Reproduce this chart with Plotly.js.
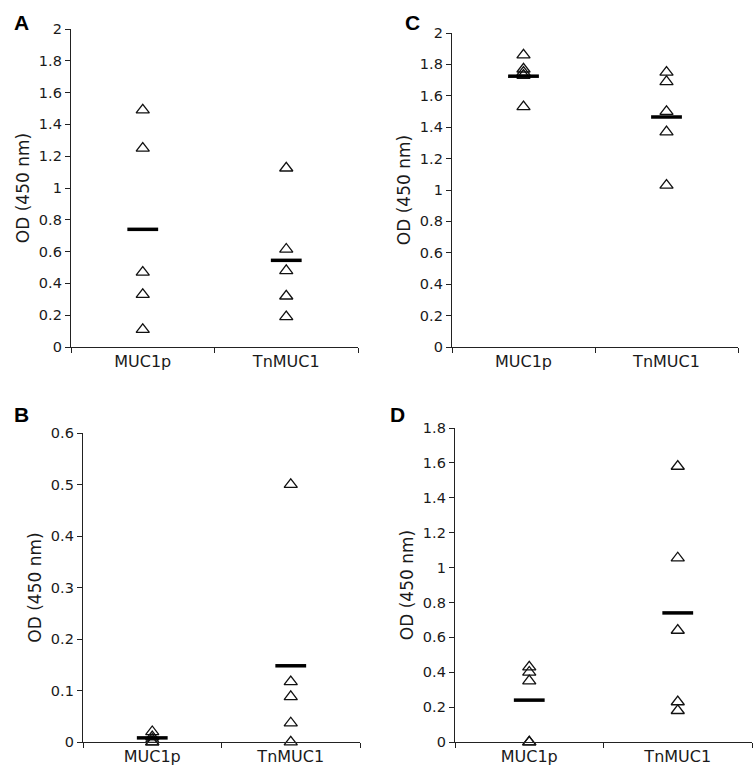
<!DOCTYPE html>
<html>
<head>
<meta charset="utf-8">
<script src="https://cdn.plot.ly/plotly-3.0.1.min.js"></script>
<style>html,body{margin:0;padding:0;background:#fff;}#chart{width:753px;height:775px;}</style>
</head>
<body>
<div id="chart"></div>
<script>
const categories = ["MUC1p", "TnMUC1"];

// Panel A
const A_MUC1p = [1.49, 1.25, 0.47, 0.33, 0.11];
const A_TnMUC1 = [1.125, 0.615, 0.48, 0.32, 0.19];
const A_means = [0.74, 0.545];
// Panel B
const B_MUC1p = [0.02, 0.01, 0.005, 0, 0];
const B_TnMUC1 = [0.50, 0.117, 0.088, 0.037, 0];
const B_means = [0.008, 0.148];
// Panel C
const C_MUC1p = [1.86, 1.77, 1.75, 1.73, 1.53];
const C_TnMUC1 = [1.75, 1.69, 1.50, 1.37, 1.03];
const C_means = [1.725, 1.465];
// Panel D
const D_MUC1p = [0.43, 0.40, 0.35, 0, 0];
const D_TnMUC1 = [1.58, 1.055, 0.64, 0.23, 0.18];
const D_means = [0.24, 0.74];

const yTitle = "OD (450 nm)";
const panelLabels = ["A", "B", "C", "D"];

const FONT = "DejaVu Sans, Arial, sans-serif";
const BFONT = "Liberation Sans, Arial, sans-serif";
const AX = "#222";
const TXT = "#1a1a1a";

function pts(vals, cat, xa, ya) {
  return {
    type: "scatter", mode: "markers",
    x: vals.map(() => cat), y: vals,
    xaxis: xa, yaxis: ya, cliponaxis: false, showlegend: false, hoverinfo: "y",
    marker: {symbol: "triangle-up-open", size: 11.5, color: "#111", line: {color: "#111", width: 1.3}}
  };
}
function means(vals, xa, ya) {
  return {
    type: "scatter", mode: "markers",
    x: categories, y: vals, xaxis: xa, yaxis: ya, cliponaxis: false, showlegend: false,
    marker: {symbol: "line-ew", size: 22, color: "#000", line: {color: "#000", width: 3.5}}
  };
}

const traces = [
  pts(A_MUC1p, categories[0], "x", "y"), pts(A_TnMUC1, categories[1], "x", "y"), means(A_means, "x", "y"),
  pts(B_MUC1p, categories[0], "x2", "y2"), pts(B_TnMUC1, categories[1], "x2", "y2"), means(B_means, "x2", "y2"),
  pts(C_MUC1p, categories[0], "x3", "y3"), pts(C_TnMUC1, categories[1], "x3", "y3"), means(C_means, "x3", "y3"),
  pts(D_MUC1p, categories[0], "x4", "y4"), pts(D_TnMUC1, categories[1], "x4", "y4"), means(D_means, "x4", "y4")
];

function xax(dom, anchor) {
  return {
    domain: dom, anchor: anchor, type: "category", categoryorder: "array", categoryarray: categories,
    range: [-0.5, 1.5], tickson: "boundaries", ticks: "outside", ticklen: 5, tickcolor: AX, tickwidth: 1,
    showline: true, linecolor: AX, linewidth: 1.2, showgrid: false, zeroline: false,
    tickfont: {family: FONT, size: 16, color: TXT}, fixedrange: true
  };
}
function yax(dom, anchor, rng, dt) {
  return {
    domain: dom, anchor: anchor, range: rng, dtick: dt, tick0: 0,
    ticks: "outside", ticklen: 5, tickcolor: AX, tickwidth: 1,
    showline: true, linecolor: AX, linewidth: 1.2, showgrid: false, zeroline: false,
    tickfont: {family: FONT, size: 14.5, color: TXT},
    title: {text: yTitle, font: {family: FONT, size: 17, color: TXT}, standoff: 4},
    fixedrange: true
  };
}

const W = 753, H = 775;
const dx = (a, b) => [a / W, b / W];
const dy = (top, bot) => [1 - bot / H, 1 - top / H];

const layout = {
  width: W, height: H,
  margin: {l: 0, r: 0, t: 0, b: 0},
  paper_bgcolor: "#fff", plot_bgcolor: "#fff",
  showlegend: false,
  xaxis: xax(dx(71, 358), "y"),
  yaxis: yax(dy(29, 347), "x", [0, 2], 0.2),
  xaxis2: xax(dx(83, 360), "y2"),
  yaxis2: yax(dy(433, 742), "x2", [0, 0.6], 0.1),
  xaxis3: xax(dx(452, 738), "y3"),
  yaxis3: yax(dy(33, 347), "x3", [0, 2], 0.2),
  xaxis4: xax(dx(455, 752), "y4"),
  yaxis4: yax(dy(428, 742), "x4", [0, 1.8], 0.2),
  annotations: [
    {text: "<b>" + panelLabels[0] + "</b>", x: 21 / W, y: 1 - 22 / H},
    {text: "<b>" + panelLabels[1] + "</b>", x: 21 / W, y: 1 - 414 / H},
    {text: "<b>" + panelLabels[2] + "</b>", x: 413 / W, y: 1 - 22 / H},
    {text: "<b>" + panelLabels[3] + "</b>", x: 397 / W, y: 1 - 414 / H}
  ].map(a => Object.assign(a, {xref: "paper", yref: "paper", showarrow: false, xanchor: "center", yanchor: "middle",
    font: {family: BFONT, size: 21, color: "#000"}}))
};

Plotly.newPlot("chart", traces, layout, {displayModeBar: false, staticPlot: true});
</script>
</body>
</html>
